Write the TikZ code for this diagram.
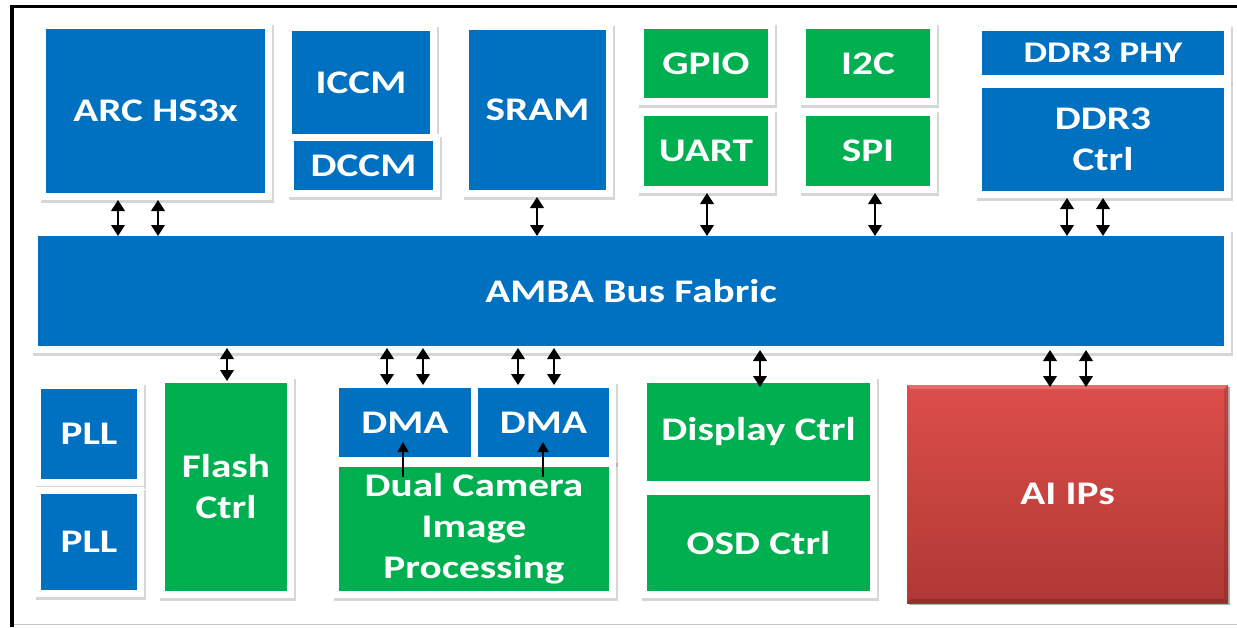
\documentclass[tikz,border=0pt]{standalone}
\usepackage{fontspec}
\setmainfont{Carlito}[FakeStretch=1.25]
\usetikzlibrary{arrows.meta,fit,backgrounds,shadows}
\definecolor{cblue}{RGB}{0,112,192}
\definecolor{cgreen}{RGB}{0,176,80}
\definecolor{redtop}{RGB}{220,78,74}
\definecolor{redbot}{RGB}{176,56,52}
% \mkbox{style}{x1}{y1}{x2}{y2}{name}{text}
\newcommand\mkbox[7]{\node[#1, minimum width={(#4-#2)*1pt}, minimum height={(#5-#3)*1pt}] (#6) at ({(#2+#4)/2},{(#3+#5)/2}) {#7};}
\begin{document}
\begin{tikzpicture}[x=1pt,y=-1pt,
  lbl/.style={font=\fontsize{33}{41}\selectfont\bfseries},
  box/.style={rectangle, inner sep=0pt, outer sep=0pt, text=white, align=center, lbl},
  bbox/.style={box, fill=cblue},
  gbox/.style={box, fill=cgreen},
  frm/.style={rectangle, fill=white, inner sep=7pt, outer sep=0pt,
    drop shadow={shadow xshift=1.5pt, shadow yshift=-2.5pt, opacity=0.16, fill=black}},
  bi/.style={{Triangle[width=13.5pt,length=11pt]}-{Triangle[width=13.5pt,length=11pt]}, line width=2.2pt},
  uparr/.style={-{Triangle[width=11pt,length=10pt]}, line width=1.7pt},
]
\useasboundingbox (0,0) rectangle (1237,627);

% top row
\mkbox{bbox}{46}{29}{265}{193}{arc}{ARC HS3x}
\mkbox{bbox}{292}{31}{430}{134}{iccm}{ICCM}
\mkbox{bbox}{294}{141}{433}{190}{dccm}{DCCM}
\mkbox{bbox}{469}{30}{606}{190}{sram}{SRAM}
\mkbox{gbox}{644}{29}{768}{98}{gpio}{GPIO}
\mkbox{gbox}{644}{116}{768}{186}{uart}{UART}
\mkbox{gbox}{806}{29}{930}{98}{i2c}{I2C}
\mkbox{gbox}{806}{116}{930}{186}{spi}{SPI}
\mkbox{bbox,font=\fontsize{30}{36}\selectfont\bfseries}{982}{31}{1224}{75}{phy}{DDR3 PHY}
\mkbox{bbox}{982}{88}{1224}{191}{ddr}{DDR3\\Ctrl}

% bus
\mkbox{bbox}{38}{236}{1224}{346}{bus}{AMBA Bus Fabric}

% bottom row
\mkbox{bbox}{41}{389}{137}{479}{pll1}{PLL}
\mkbox{bbox}{41}{494}{137}{590}{pll2}{PLL}
\mkbox{gbox}{165}{383}{287}{591}{flash}{Flash\\Ctrl}
\mkbox{bbox}{339}{388}{471}{457}{dma1}{DMA}
\mkbox{bbox}{478}{388}{609}{457}{dma2}{DMA}
\mkbox{gbox}{339}{467}{609}{591}{dual}{Dual Camera\\Image\\Processing}
\mkbox{gbox}{647}{383}{870}{481}{disp}{Display Ctrl}
\mkbox{gbox}{647}{495}{870}{591}{osd}{OSD Ctrl}
\mkbox{box,top color=redtop,bottom color=redbot,drop shadow={shadow xshift=1.5pt,shadow yshift=-2pt,opacity=0.3,fill=black}}{907}{385}{1228}{603}{ai}{AI IPs}
% bevel of AI IPs
\fill[white, opacity=0.18] (ai.north west) -- (ai.north east) -- ([shift={(-4,4)}]ai.north east) -- ([shift={(4,4)}]ai.north west) -- cycle;
\fill[black, opacity=0.12] (ai.north east) -- (ai.south east) -- ([shift={(-4,-4)}]ai.south east) -- ([shift={(-4,4)}]ai.north east) -- cycle;
\fill[black, opacity=0.16] (ai.south west) -- (ai.south east) -- ([shift={(-4,-4)}]ai.south east) -- ([shift={(4,-4)}]ai.south west) -- cycle;

% white frames
\begin{scope}[on background layer]
  \fill[white] (0,0) rectangle (1237,627);
  \foreach \n in {arc,iccm,dccm,sram,gpio,uart,i2c,spi,phy,ddr,bus,pll1,pll2,flash,dma1,dma2,dual,disp,osd}
    \node[frm, fit=(\n)] (\n F) {};
\end{scope}

% connectors to the bus
\draw[bi] (arcF.south -| 118,0) -- (bus.north -| 118,0);
\draw[bi] (arcF.south -| 158,0) -- (bus.north -| 158,0);
\draw[bi] (sramF.south -| 537,0) -- (bus.north -| 537,0);
\draw[bi] (uartF.south -| 707,0) -- (bus.north -| 707,0);
\draw[bi] (spiF.south -| 875,0) -- (bus.north -| 875,0);
\draw[bi] (ddrF.south -| 1067,0) -- (bus.north -| 1067,0);
\draw[bi] (ddrF.south -| 1103,0) -- (bus.north -| 1103,0);

\draw[bi] ([yshift=-2pt]bus.south -| 227,0) -- ([yshift=2pt]flash.north -| 227,0);
\draw[bi] ([yshift=-2pt]bus.south -| 387,0) -- ([yshift=-4pt]dma1F.north -| 387,0);
\draw[bi] ([yshift=-2pt]bus.south -| 423,0) -- ([yshift=-4pt]dma1F.north -| 423,0);
\draw[bi] ([yshift=-2pt]bus.south -| 518,0) -- ([yshift=-4pt]dma2F.north -| 518,0);
\draw[bi] ([yshift=-2pt]bus.south -| 554,0) -- ([yshift=-4pt]dma2F.north -| 554,0);
\draw[bi] ([yshift=-4pt]bus.south -| 760,0) -- ([yshift=-4pt]disp.north -| 760,0);
\draw[bi] ([yshift=-4pt]bus.south -| 1050,0) -- ([yshift=-2pt]ai.north -| 1050,0);
\draw[bi] ([yshift=-4pt]bus.south -| 1086,0) -- ([yshift=-2pt]ai.north -| 1086,0);

% camera to DMA
\draw[uparr] ([yshift=-10pt]dual.north -| 403,0) -- ([yshift=15pt]dma1.south -| 403,0);
\draw[uparr] ([yshift=-10pt]dual.north -| 543,0) -- ([yshift=15pt]dma2.south -| 543,0);

% picture border
\draw[line width=3.5pt] (12,627) -- (12,6.5) -- (1237,6.5);
\draw[black!22, line width=1pt] (14,624) -- (1237,624);
\end{tikzpicture}
\end{document}
